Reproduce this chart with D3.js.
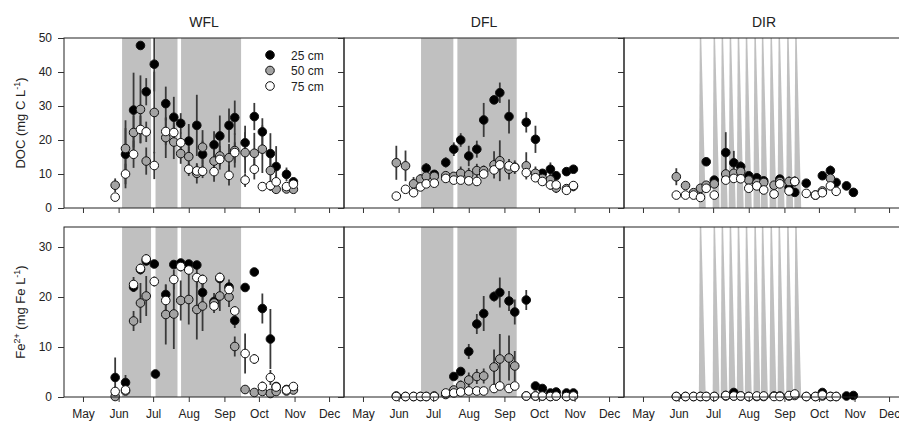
<!DOCTYPE html>
<html>
<head>
<meta charset="utf-8">
<script src="https://cdn.jsdelivr.net/npm/d3@7"></script>
<style>
body { margin: 0; background: #fff; }
text { font-family: "Liberation Sans", Arial, sans-serif; fill: #222; }
</style>
</head>
<body>
<svg id="chart"></svg>
<script>
// month ticks (day of year)
const months = ["May", "Jun", "Jul", "Aug", "Sep", "Oct", "Nov", "Dec"];
const monthDays = [121, 152, 182, 213, 244, 274, 305, 335];
const sites = ["WFL", "DFL", "DIR"];
const depths = ["25 cm", "50 cm", "75 cm"];

// flooding periods (day of year)
const wflFlood = [[155, 180.2], [184.1, 203.2], [206.3, 258.5]];
const dflFlood = [[171.5, 199.6], [203.1, 254.7]];
const dirPulses = [171, 183, 190, 197, 204, 211, 218.5, 225, 232.5, 239.5, 247, 254];

// WFL
const wflDays = [149, 158, 165, 171, 176, 183, 184, 193, 200, 206, 213, 220, 225, 235, 240, 248, 253, 262, 270, 277, 284, 289, 298, 304];
const wflDoc25 = [null, 15.8, 28.8, 47.8, 34.2, 42.3, null, 30.7, 26.7, 24.9, 19.7, 24.3, 15.8, 18.6, 21.2, 24.3, 26.6, 19.2, 26.9, 22.4, 16.0, 12.2, 9.9, 7.7];
const wflDoc50 = [6.7, 17.5, 22.2, 29.0, 13.8, 28.1, null, 20.7, 19.4, 16.0, 15.1, 10.2, 17.9, 13.8, 15.3, 14.8, 16.9, 16.3, 16.1, 17.3, 11.0, 5.5, 5.6, 5.5];
const wflDoc75 = [3.2, 10.0, 15.8, 23.1, 22.4, 12.5, null, 22.5, 22.2, 19.2, 11.4, 10.9, 10.8, 10.7, 14.3, 9.6, 16.3, 8.2, 11.4, 6.3, 6.6, 7.7, 6.3, 7.0];
const wflDoc25Err = [null, 10, 11, 1, 4, 8, null, 5, 6, 3, 5, 9, 4, 4, 6, 5, 5, 5, 4, 4, 6, 6, 2, 1];
const wflDoc50Err = [2, 6, 5, 10, 4, 12, null, 6, 5, 3, 3, 3, 5, 4, 3, 4, 5, 6, 6, 7, 6, 1, 1, 1];
const wflDoc75Err = [1, 3, 4, 4, 3, 4, null, 4, 3, 3, 2, 2, 2, 3, 3, 3, 3, 2, 3, 1, 1, 2, 1, 1];
const wflFe25 = [3.9, 2.9, 22.0, 25.5, 27.2, 26.6, 4.6, 20.5, 26.5, 26.8, 26.6, 26.4, 20.9, 19.1, 23.7, 22.0, 15.3, 21.9, 25.0, 17.7, 11.6, 2.1, 1.5, null];
const wflFe50 = [0.1, 1.2, 15.2, 18.8, 20.2, null, null, 16.5, 16.6, 19.3, 19.5, 17.5, 18.2, 18.8, 20.2, 20.0, 10.1, 1.5, 0.9, 1.1, 0.7, 1.1, 1.2, 1.4];
const wflFe75 = [1.1, 1.4, 22.5, 25.7, 27.6, 23.1, null, 19.3, 23.5, 26.1, 25.4, 23.9, 23.5, 18.2, 23.9, 21.5, 17.2, 8.7, 7.6, 2.1, 3.9, 2.0, 1.4, 2.1];
const wflFe25Err = [4, 1.5, 1, 1, 0.5, 0.5, 0.5, 2, 0.5, 0.5, 0.5, 0.5, 2, 1, 1, 1.5, 1.5, 0.5, 0.5, 3, 6, 0.5, 0.5, null];
const wflFe50Err = [0.3, 0.3, 2, 4, 4, null, null, 6, 7, 4, 5, 6, 5, 2, 3, 2, 2, 0.5, 0.5, 0.5, 0.5, 0.5, 0.5, 0.5];
const wflFe75Err = [1, 1, 1.5, 1, 1, 1, null, 2, 2, 1, 1, 2, 1, 1, 1, 1, 1, 4, 1, 1, 1.5, 0.5, 0.5, 0.5];

// DFL
const dflDays = [150, 158, 165, 171, 176, 183, 193, 200, 206, 213, 220, 226, 235, 240, 248, 253, 263, 271, 277, 284, 289, 298, 304];
const dflDoc25 = [null, null, null, null, 11.7, 9.9, 13.4, 17.3, 20.0, 15.3, 17.3, 25.9, 31.8, 33.9, 26.9, null, 25.2, 20.2, 10.2, 11.4, 9.5, 10.7, 11.4];
const dflDoc50 = [13.3, 12.4, 7.1, 8.5, 9.3, 9.3, 9.5, 9.3, 10.2, 9.8, 11.0, 11.0, 12.7, 13.9, 11.4, 12.0, 12.4, 10.2, 8.7, 8.3, 5.9, 5.7, 6.4];
const dflDoc75 = [3.5, 5.5, 4.5, 6.2, 7.1, 7.3, 8.7, 8.2, 8.2, 8.0, 7.8, 10.0, 11.2, 12.7, 12.4, 11.9, 10.4, 8.9, 7.8, 6.8, 6.8, 5.2, 6.6];
const dflDoc25Err = [null, null, null, null, 1.5, 1, 1.5, 2, 2, 3, 2.5, 5, 1, 3, 5, null, 3, 4, 1, 2, 1, 1, 1];
const dflDoc50Err = [5, 4.5, 2, 1.5, 1, 1, 1, 1, 2, 2, 2, 1.5, 4, 6, 3, 2, 4, 2, 1.5, 3, 1.5, 1, 1.5];
const dflDoc75Err = [0.5, 1, 1, 1, 1, 1, 1, 1, 1, 1, 1, 1, 1.5, 1.5, 1, 1, 1, 1, 1, 1, 1, 1, 1];
const dflFe25 = [null, null, null, null, null, null, null, 4.1, 5.1, 9.1, 14.6, 16.7, 20.1, 20.9, 19.2, 17.0, 19.4, 2.2, 1.7, 0.8, 1.0, 0.8, 0.8];
const dflFe50 = [0.2, 0.1, 0.1, 0.1, 0.1, 0.2, 0.5, 1.4, 2.3, 3.4, 4.1, 4.2, 6.0, 7.6, 7.8, 6.2, 0.2, 0.2, 0.2, 0.1, 0.2, 0.1, 0.2];
const dflFe75 = [0.1, 0.1, 0.1, 0.1, 0.1, 0.1, 0.8, 0.8, 1.0, 1.2, 1.2, 1.2, 1.7, 2.2, 1.7, 2.2, 0.2, 0.2, 0.2, 0.1, 0.2, 0.1, 0.2];
const dflFe25Err = [null, null, null, null, null, null, null, 0.5, 0.5, 1.5, 2, 3.5, 1, 3, 2, 2.5, 2, 0.5, 0.5, 0.3, 0.3, 0.3, 0.3];
const dflFe50Err = [0.3, 0.2, 0.2, 0.2, 0.2, 0.2, 0.3, 0.8, 1, 1.5, 1.5, 1.5, 3.5, 5, 4.5, 3, 0.2, 0.2, 0.2, 0.2, 0.2, 0.2, 0.2];
const dflFe75Err = [0.3, 0.3, 0.3, 0.3, 0.3, 0.3, 0.3, 0.3, 0.3, 0.3, 0.3, 0.3, 0.3, 0.3, 0.3, 0.3, 0.3, 0.3, 0.3, 0.3, 0.3, 0.3, 0.3];

// DIR
const dirDays = dflDays;
const dirDoc25 = [null, null, null, null, 13.6, 8.2, 16.3, 13.3, 12.2, 9.5, 8.9, 8.0, null, 8.5, 6.0, 4.6, 7.3, null, 9.5, 11.0, 7.5, 6.5, 4.6];
const dirDoc50 = [9.2, 6.6, 4.5, 5.8, 6.7, 7.1, 10.0, 10.2, 10.7, 8.2, 7.4, 7.5, 6.7, 7.8, 7.8, 7.8, null, 3.8, 5.0, 8.7, null, null, null];
const dirDoc75 = [3.8, 3.8, 3.8, 3.1, 5.8, 3.8, 8.2, 8.7, 8.6, 5.8, 6.5, 5.3, 4.1, 7.1, 5.0, 7.8, 4.3, 3.8, 4.5, 6.5, 4.9, null, null];
const dirDoc25Err = [null, null, null, null, 1, 1, 6, 3.5, 1.5, 1, 1, 1, null, 1, 1, 1, 1, null, 1, 1.5, 1, 1, 1];
const dirDoc50Err = [2.5, 1, 1, 1, 1, 1, 1, 1, 1, 1, 1, 1, 1, 1, 1.5, 1.5, null, 1, 1, 1.5, null, null, null];
const dirDoc75Err = [0.5, 0.5, 0.5, 0.5, 0.5, 0.5, 0.5, 0.5, 0.5, 0.5, 0.5, 0.5, 0.5, 0.5, 0.5, 1, 0.5, 0.5, 0.5, 0.5, 0.5, null, null];
const dirFe25 = [null, null, null, null, null, null, 0.3, 0.9, null, null, null, null, null, null, null, null, null, null, 0.9, null, null, 0.2, 0.3];
const dirFe50 = [0.1, 0.1, 0.1, 0.1, 0.1, 0.1, 0.2, 0.2, 0.2, 0.1, 0.1, 0.1, 0.2, 0.2, 0.2, 0.3, 0.1, 0.1, 0.2, 0.1, 0.1, null, null];
const dirFe75 = [0.1, 0.1, 0.1, 0.1, 0.1, 0.1, 0.3, 0.2, 0.2, 0.1, 0.2, 0.2, 0.1, 0.1, 0.3, 0.6, 0.1, 0.1, 0.4, 0.1, 0.1, null, null];

const w = 899, h = 422;
const left = 64, panelW = 280;
const fills = ["#000", "#a3a3a3", "#fff"];
const shadeColor = "#c0c0c0";

const rows = [
  { top: 38, bottom: 208, max: 50, ticks: [0, 10, 20, 30, 40, 50] },
  { top: 227, bottom: 397, max: 34, ticks: [0, 10, 20, 30] }
];

const panels = [
  { col: 0, row: 0, days: wflDays, vals: [wflDoc25, wflDoc50, wflDoc75], errs: [wflDoc25Err, wflDoc50Err, wflDoc75Err] },
  { col: 1, row: 0, days: dflDays, vals: [dflDoc25, dflDoc50, dflDoc75], errs: [dflDoc25Err, dflDoc50Err, dflDoc75Err] },
  { col: 2, row: 0, days: dirDays, vals: [dirDoc25, dirDoc50, dirDoc75], errs: [dirDoc25Err, dirDoc50Err, dirDoc75Err] },
  { col: 0, row: 1, days: wflDays, vals: [wflFe25, wflFe50, wflFe75], errs: [wflFe25Err, wflFe50Err, wflFe75Err] },
  { col: 1, row: 1, days: dflDays, vals: [dflFe25, dflFe50, dflFe75], errs: [dflFe25Err, dflFe50Err, dflFe75Err] },
  { col: 2, row: 1, days: dirDays, vals: [dirFe25, dirFe50, dirFe75], errs: [null, null, null] }
];

const svg = d3.select("#chart").attr("width", w).attr("height", h);

panels.forEach((p, i) => {
  const r = rows[p.row];
  const x0 = left + p.col * panelW;
  const x = d3.scaleLinear().domain([104.5, 348]).range([x0, x0 + panelW]);
  const y = d3.scaleLinear().domain([0, r.max]).range([r.bottom, r.top]);
  const g = svg.append("g");

  g.append("clipPath").attr("id", "clip" + i)
    .append("rect").attr("x", x0).attr("y", r.top)
    .attr("width", panelW).attr("height", r.bottom - r.top);
  const inner = g.append("g").attr("clip-path", "url(#clip" + i + ")");

  // shading
  if (p.col === 0 || p.col === 1) {
    const fl = p.col === 0 ? wflFlood : dflFlood;
    inner.selectAll("rect.shade").data(fl).enter().append("rect")
      .attr("class", "shade")
      .attr("x", d => x(d[0])).attr("width", d => x(d[1]) - x(d[0]))
      .attr("y", r.top).attr("height", r.bottom - r.top)
      .attr("fill", shadeColor);
  } else {
    inner.selectAll("path.pulse").data(dirPulses).enter().append("path")
      .attr("class", "pulse")
      .attr("d", c => "M" + x(c - 0.6) + "," + r.top + "L" + x(c + 0.7) + "," + r.top +
        "L" + x(c + 4.6) + "," + r.bottom + "L" + x(c - 1.4) + "," + r.bottom + "Z")
      .attr("fill", shadeColor);
  }

  // error bars
  p.vals.forEach((vals, s) => {
    const errs = p.errs[s];
    if (!errs) return;
    const pts = p.days.map((d, k) => [d, vals[k], errs[k]]).filter(d => d[1] != null && d[2] != null);
    inner.selectAll("line.err" + s).data(pts).enter().append("line")
      .attr("x1", d => x(d[0])).attr("x2", d => x(d[0]))
      .attr("y1", d => y(Math.max(0, d[1] - d[2]))).attr("y2", d => y(d[1] + d[2]))
      .attr("stroke", "#3a3a3a").attr("stroke-width", 1.8);
  });

  // points
  p.vals.forEach((vals, s) => {
    const pts = p.days.map((d, k) => [d, vals[k]]).filter(d => d[1] != null);
    g.selectAll("circle.s" + s).data(pts).enter().append("circle")
      .attr("cx", d => x(d[0])).attr("cy", d => y(d[1]))
      .attr("r", 4.3)
      .attr("fill", fills[s]).attr("stroke", "#111").attr("stroke-width", 1);
  });

  // frame
  g.append("rect").attr("x", x0).attr("y", r.top)
    .attr("width", panelW).attr("height", r.bottom - r.top)
    .attr("fill", "none").attr("stroke", "#222").attr("stroke-width", 1);

  // axes
  const yAxis = d3.axisLeft(y).tickValues(r.ticks).tickSize(6).tickPadding(6)
    .tickFormat(p.col === 0 ? d3.format("d") : "");
  g.append("g").attr("transform", "translate(" + x0 + ",0)").call(yAxis)
    .call(a => a.select(".domain").remove())
    .call(a => a.selectAll("line").attr("stroke", "#333"))
    .call(a => a.selectAll("text").attr("font-size", 12).attr("fill", "#333"));

  const xAxis = d3.axisBottom(x).tickValues(monthDays).tickSize(5).tickPadding(7)
    .tickFormat((d, k) => p.row === 1 ? months[k] : "");
  g.append("g").attr("transform", "translate(0," + r.bottom + ")").call(xAxis)
    .call(a => a.select(".domain").remove())
    .call(a => a.selectAll("line").attr("stroke", "#333"))
    .call(a => a.selectAll("text").attr("font-size", 12).attr("fill", "#333"));

  if (p.row === 0) {
    svg.append("text").attr("x", x0 + panelW / 2).attr("y", 27)
      .attr("text-anchor", "middle").attr("font-size", 14)
      .text(sites[p.col]);
  }
});

// legend
const legend = svg.append("g");
depths.forEach((d, s) => {
  legend.append("circle").attr("cx", 270).attr("cy", 55 + s * 15.5).attr("r", 4.3)
    .attr("fill", fills[s]).attr("stroke", "#111");
  legend.append("text").attr("x", 291).attr("y", 59.5 + s * 15.5)
    .attr("font-size", 12).text(d);
});

// y labels
const docLabel = svg.append("text")
  .attr("transform", "translate(25,123) rotate(-90)")
  .attr("text-anchor", "middle").attr("font-size", 13);
docLabel.append("tspan").text("DOC (mg C L");
docLabel.append("tspan").attr("font-size", 9).attr("dy", -5).text("-1");
docLabel.append("tspan").attr("dy", 5).text(")");

const feLabel = svg.append("text")
  .attr("transform", "translate(25,312) rotate(-90)")
  .attr("text-anchor", "middle").attr("font-size", 13);
feLabel.append("tspan").text("Fe");
feLabel.append("tspan").attr("font-size", 9).attr("dy", -5).text("2+");
feLabel.append("tspan").attr("dy", 5).text(" (mg Fe L");
feLabel.append("tspan").attr("font-size", 9).attr("dy", -5).text("-1");
feLabel.append("tspan").attr("dy", 5).text(")");
</script>
</body>
</html>
